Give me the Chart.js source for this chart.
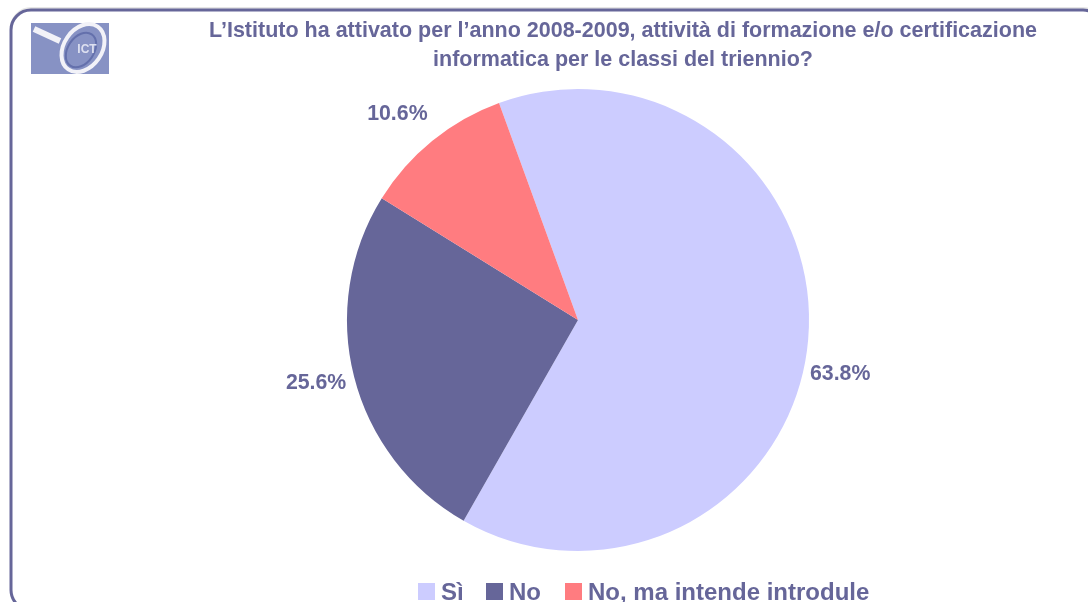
<!DOCTYPE html>
<html>
<head>
<meta charset="utf-8">
<title>Attività di formazione informatica</title>
<script src="https://cdn.jsdelivr.net/npm/chart.js@4"></script>
<style>
  html, body { margin: 0; padding: 0; background: #fff; overflow: hidden; }
  canvas { display: block; }
</style>
</head>
<body>
<canvas id="chart" width="1088" height="602"></canvas>
<script>
// Chart data
const categories = ["Sì", "No", "No, ma intende introdule"];
const values = [63.8, 25.6, 10.6];
const colors = ["#CCCCFF", "#666699", "#FF7C80"];
const titleLines = [
  "L’Istituto ha attivato per l’anno 2008-2009, attività di formazione e/o certificazione",
  "informatica per le classi del triennio?",
];

const FONT = '"Liberation Sans", Arial, sans-serif';
const INK = "#666699";

// Labels were moved by hand in the original, so nudge them off the slice edge
const labelNudge = [[32, 35], [-38, 6], [-35, -27]];

// Rounded frame and logo go behind the pie
const backdrop = {
  id: "backdrop",
  beforeDraw(chart) {
    const ctx = chart.ctx;
    ctx.save();

    ctx.strokeStyle = "#E6E6E6";
    ctx.lineWidth = 2;
    ctx.beginPath();
    ctx.roundRect(11, 8, 1092, 602, 20);
    ctx.stroke();

    ctx.strokeStyle = INK;
    ctx.lineWidth = 3;
    ctx.beginPath();
    ctx.roundRect(11, 10, 1092, 600, 20);
    ctx.stroke();

    // Logo
    ctx.fillStyle = "#8792C4";
    ctx.fillRect(31, 23, 78, 51);
    ctx.strokeStyle = "#F2F2F8";
    ctx.lineWidth = 6;
    ctx.beginPath();
    ctx.moveTo(34, 29);
    ctx.lineTo(60, 41);
    ctx.stroke();
    ctx.lineWidth = 4;
    ctx.beginPath();
    ctx.ellipse(83, 48, 19, 26, 0.6, 0, Math.PI * 2);
    ctx.stroke();
    ctx.strokeStyle = "#6470AC";
    ctx.lineWidth = 2;
    ctx.beginPath();
    ctx.ellipse(81, 50, 13, 19, 0.6, 0, Math.PI * 2);
    ctx.stroke();
    ctx.fillStyle = "#DDE0F0";
    ctx.font = "bold 12px " + FONT;
    ctx.textAlign = "center";
    ctx.textBaseline = "middle";
    ctx.fillText("ICT", 87, 50);

    ctx.restore();
  },
};

// Title, percentage labels and legend
const annotations = {
  id: "annotations",
  afterDraw(chart) {
    const ctx = chart.ctx;
    ctx.save();
    ctx.fillStyle = INK;
    ctx.textBaseline = "middle";
    ctx.textAlign = "center";

    ctx.font = "bold 21.5px " + FONT;
    titleLines.forEach((line, i) => ctx.fillText(line, 623, 31 + i * 29));

    ctx.font = "bold 21.3px " + FONT;
    chart.getDatasetMeta(0).data.forEach((arc, i) => {
      const mid = (arc.startAngle + arc.endAngle) / 2;
      const x = arc.x + Math.cos(mid) * arc.outerRadius + labelNudge[i][0];
      const y = arc.y + Math.sin(mid) * arc.outerRadius + labelNudge[i][1];
      ctx.fillText(values[i].toFixed(1) + "%", x, y);
    });

    ctx.font = "bold 24px " + FONT;
    ctx.textAlign = "left";
    const legendX = [418, 486, 565];
    categories.forEach((name, i) => {
      ctx.fillStyle = colors[i];
      ctx.fillRect(legendX[i], 583, 17, 17);
      ctx.fillStyle = INK;
      ctx.fillText(name, legendX[i] + 23, 593);
    });
    ctx.restore();
  },
};

new Chart(document.getElementById("chart").getContext("2d"), {
  type: "pie",
  data: {
    labels: categories,
    datasets: [
      {
        data: values,
        backgroundColor: colors,
        borderWidth: 0,
      },
    ],
  },
  options: {
    responsive: false,
    animation: false,
    rotation: -20,
    layout: { padding: { top: 89, bottom: 51, left: 68 } },
    plugins: {
      legend: { display: false },
      title: { display: false },
      tooltip: { enabled: false },
    },
  },
  plugins: [backdrop, annotations],
});
</script>
</body>
</html>
